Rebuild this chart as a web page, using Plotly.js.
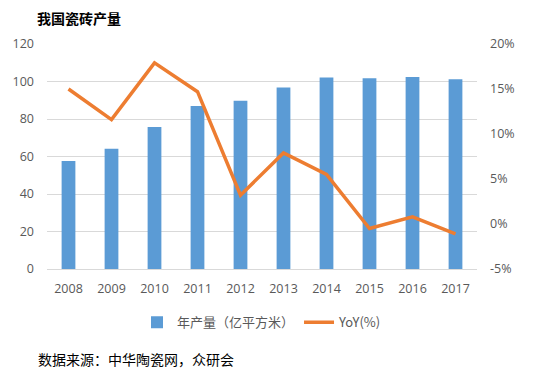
<!DOCTYPE html>
<html><head><meta charset="utf-8">
<script src="https://cdn.plot.ly/plotly-3.0.1.min.js"></script>
<style>body{margin:0;background:#fff}#c{width:541px;height:373px}</style>
</head><body><div id="c"></div>
<script>
const years = ['2008','2009','2010','2011','2012','2013','2014','2015','2016','2017'];
const output = [57.6, 64.2, 75.8, 87.0, 89.7, 96.8, 102.1, 101.7, 102.4, 101.2];
const yoy = [15.0, 11.6, 17.9, 14.7, 3.2, 7.9, 5.5, -0.5, 0.8, -1.1];
const leftTicks = [0,20,40,60,80,100,120];
const rightTicks = [-5,0,5,10,15,20];
const rightTickText = ['-5%','0%','5%','10%','15%','20%'];

const font = "'Open Sans','Liberation Sans','Noto Sans CJK SC',sans-serif";
const cjk = "'Noto Sans CJK SC',sans-serif";
const traces = [
  {type:'bar', x:years, y:output, name:'年产量（亿平方米）',
   marker:{color:'#5B9BD5'}, width:0.32},
  {type:'scatter', mode:'lines', x:years, y:yoy, yaxis:'y2', name:'YoY(%)',
   line:{color:'#ED7D31', width:3.5}}
];
const layout = {
  width:541, height:373,
  margin:{l:47, r:64, t:43.5, b:103.5},
  paper_bgcolor:'#fff', plot_bgcolor:'#fff',
  showlegend:true,
  legend:{orientation:'h', x:0.5, xanchor:'center', y:-0.17, yanchor:'top',
          font:{family:cjk, size:13, color:'#595959'}, itemwidth:30},
  xaxis:{type:'category', showgrid:false, showline:false, zeroline:false,
         tickfont:{family:font, size:12.5, color:'#595959'}, ticks:'', ticklabelstandoff:10},
  yaxis:{range:[0,120], tickvals:leftTicks, showgrid:true, gridcolor:'#D9D9D9', gridwidth:1,
         zeroline:true, zerolinecolor:'#D9D9D9', zerolinewidth:1,
         tickfont:{family:font, size:12.5, color:'#595959'}, ticks:'', ticklabelstandoff:12},
  yaxis2:{range:[-5,20], overlaying:'y', side:'right', tickvals:rightTicks, ticktext:rightTickText,
          showgrid:false, zeroline:false, tickfont:{family:font, size:12.5, color:'#595959'}, ticklabelstandoff:12},
  annotations:[
    {xref:'paper', yref:'paper', x:-0.028, y:1.117, xanchor:'left', yanchor:'middle', showarrow:false,
     text:'<b>我国瓷砖产量</b>', font:{family:cjk, size:14, color:'#000'}},
    {xref:'paper', yref:'paper', x:-0.025, y:-0.40, xanchor:'left', yanchor:'middle', showarrow:false,
     text:'数据来源：中华陶瓷网，众研会', font:{family:cjk, size:14, color:'#000'}}
  ]
};
Plotly.newPlot('c', traces, layout, {displayModeBar:false, staticPlot:true});
</script></body></html>
